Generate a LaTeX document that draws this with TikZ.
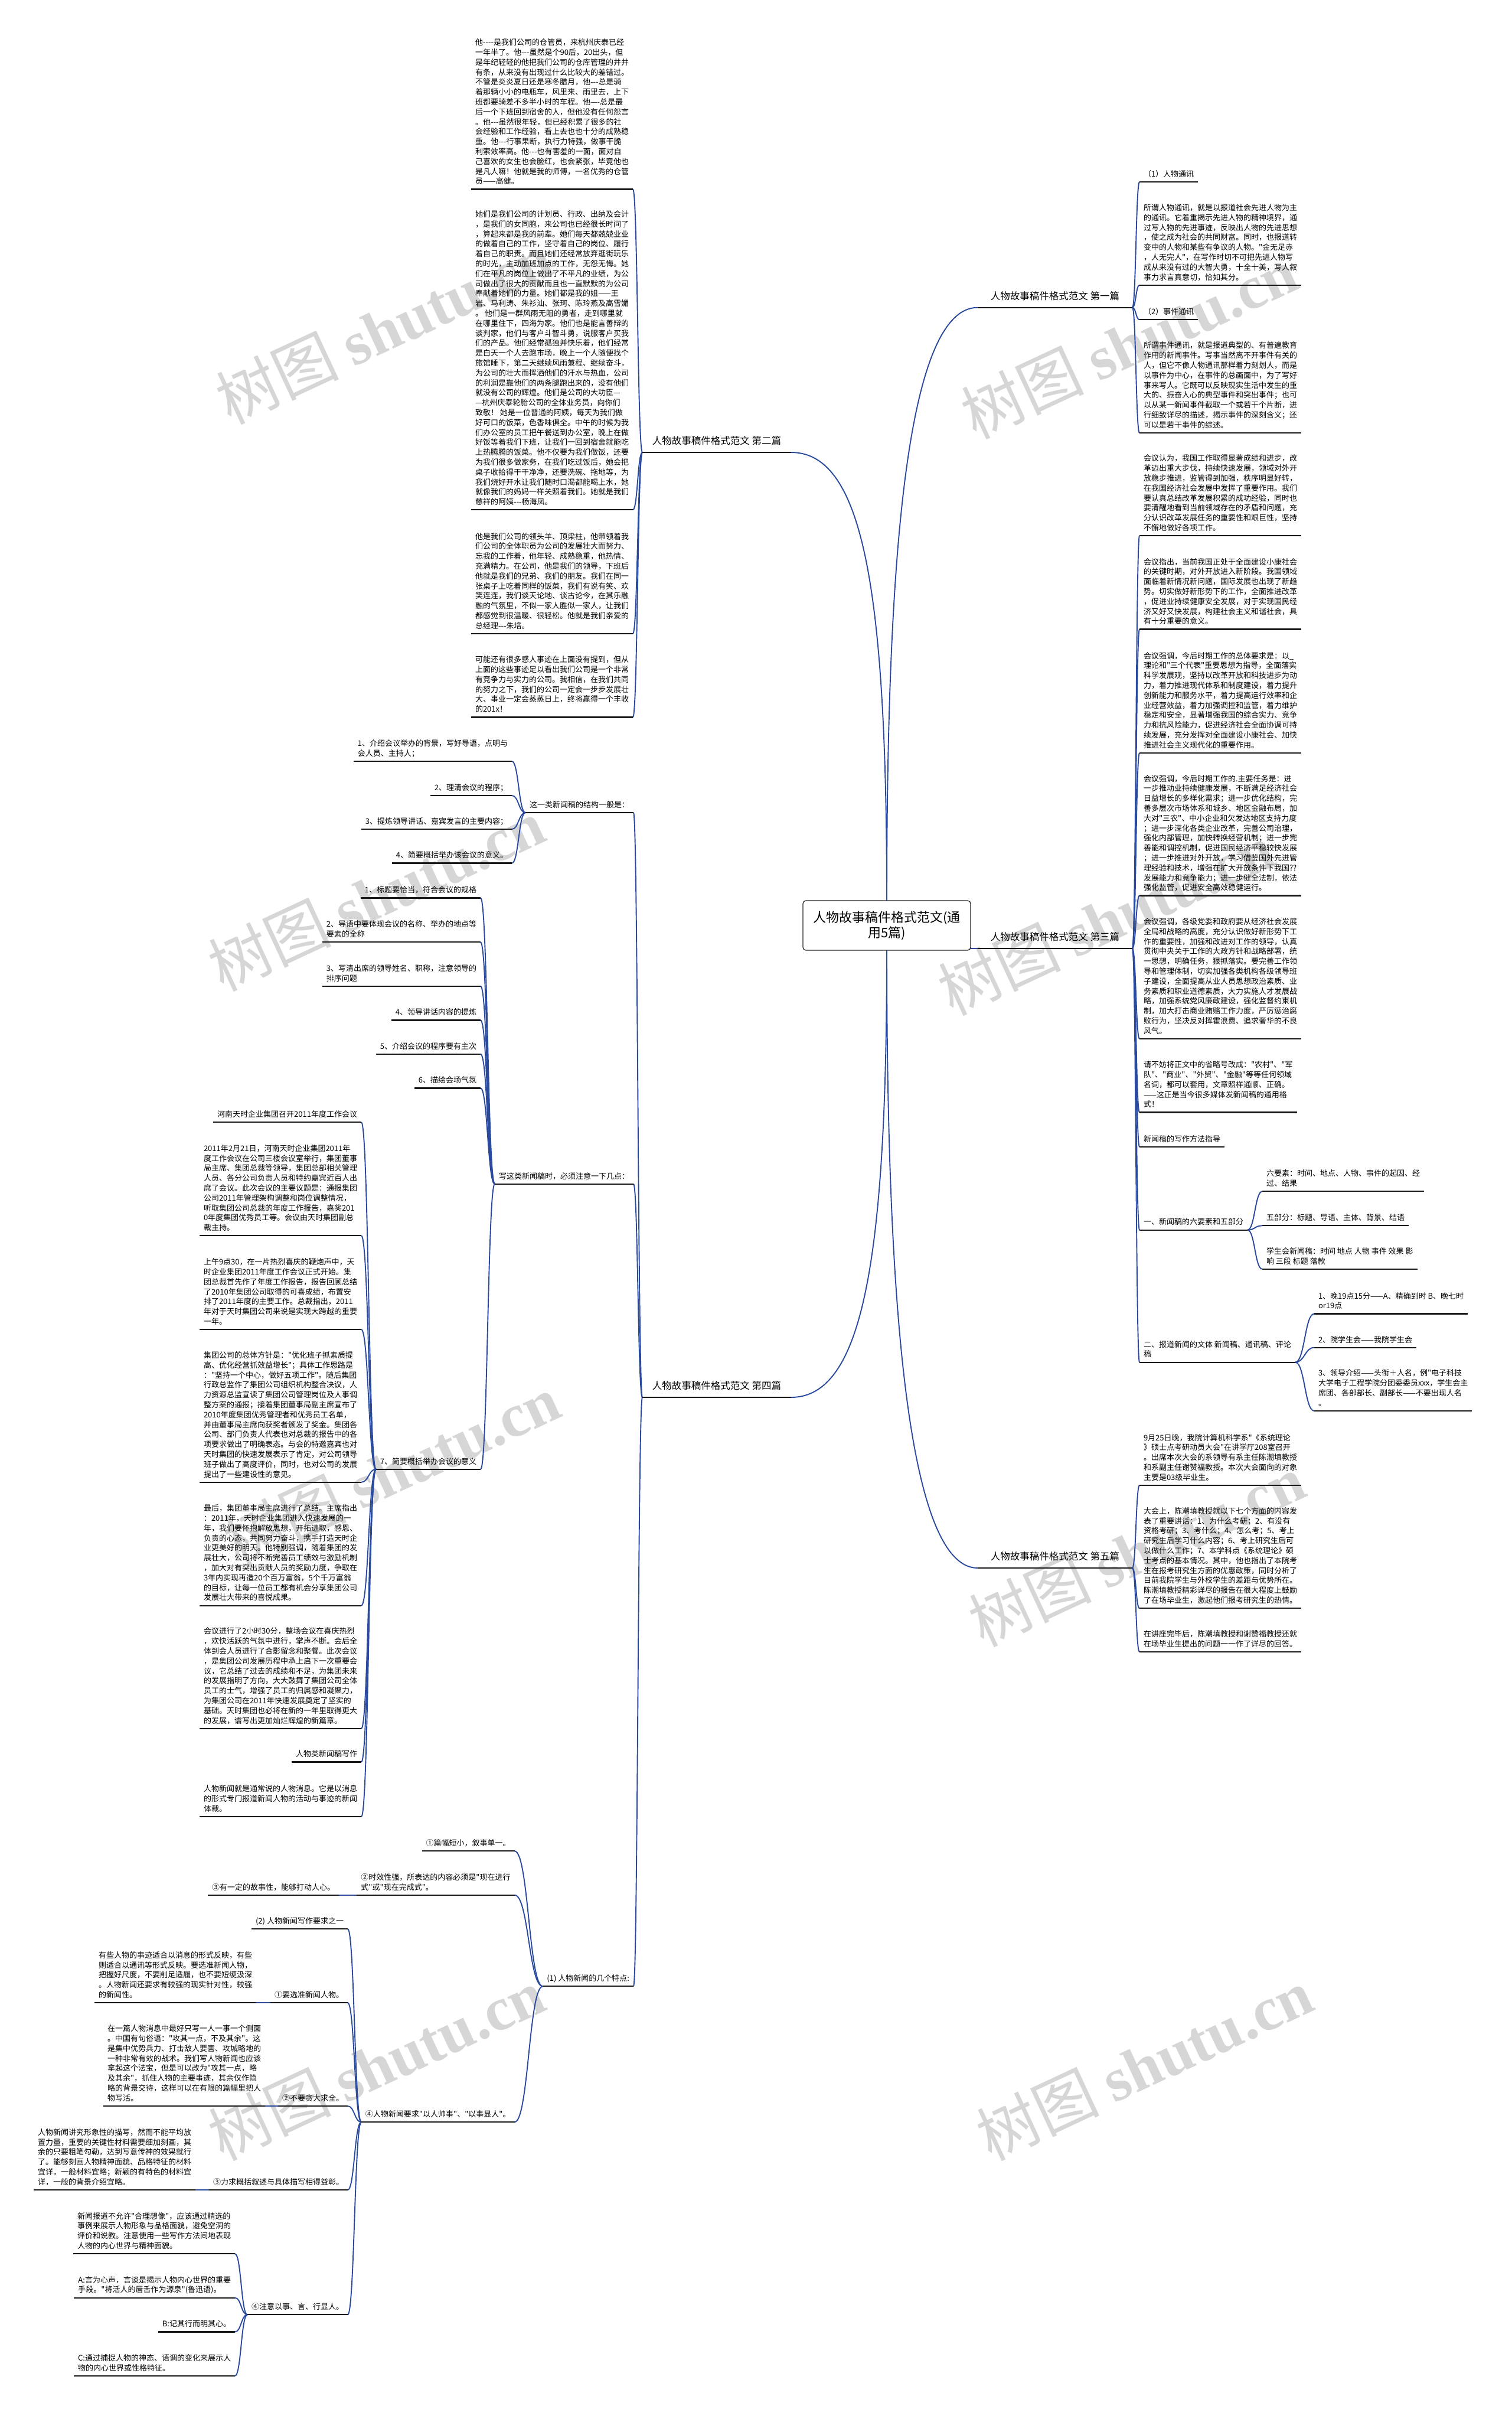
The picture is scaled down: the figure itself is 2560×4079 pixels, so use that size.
\documentclass[tikz,border=0pt]{standalone}
\usepackage{fontspec}
\usetikzlibrary{calc}
\newfontfamily\cjk[Ligatures=TeXOff]{Noto Sans CJK SC}
\newfontfamily\wmlat{Liberation Serif}
\newcommand\FBody{\cjk\fontsize{13}{16.8}\selectfont}
\newcommand\FLvl{\cjk\fontsize{16.5}{20}\selectfont}
\newcommand\FRoot{\cjk\fontsize{22}{26}\selectfont}
\definecolor{linkblue}{HTML}{2A4A9E}
\tikzset{
  tb/.style={font=\FBody, align=left, inner xsep=7pt, inner ysep=0pt, outer sep=0pt, text depth=8.7pt},
  R/.style={tb, anchor=south west},
  L/.style={tb, anchor=south east},
  lvl/.style={font=\FLvl, inner xsep=0pt, inner ysep=0pt, outer sep=0pt, text depth=13.7pt, minimum width=262pt},
  ul/.style={line width=2.2pt, draw=black!90},
  conn/.style={line width=1.9pt, draw=linkblue},
  wm/.style={font=\fontsize{104}{104}\selectfont, text=black!16, rotate=25, inner sep=0pt},
}
\newcommand\lk[2]{\draw[conn] let \p1=(#1), \p2=(#2), \n1={(\x1+\x2)/2} in (\p1) .. controls (\n1,\y1) and (\n1,\y2) .. (\p2);}
\begin{document}
\begin{tikzpicture}[x=1pt,y=-1pt]
\useasboundingbox (0,0) rectangle (2560,4079);
\fill[white] (0,0) rectangle (2560,4079);
% watermarks
\foreach \wx/\wy [count=\wi] in {650/555,1912/580,637/1515,1873/1556,663/2490,1925/2625,637/3495,1938/3495}
  \node[wm] (wm\wi) at (\wx,\wy) {\cjk 树图\ \wmlat\bfseries shutu.cn};

% ---------- level 1 ----------
\node[lvl, anchor=south west] (B1) at (1656,520.7) {人物故事稿件格式范文 第一篇};
\node[lvl, anchor=south east, minimum width=252pt] (B2) at (1340,766) {人物故事稿件格式范文 第二篇};
\node[lvl, anchor=south west] (B3) at (1656,1606) {人物故事稿件格式范文 第三篇};
\node[lvl, anchor=south east, minimum width=252pt] (B4) at (1340,2366) {人物故事稿件格式范文 第四篇};
\node[lvl, anchor=south west] (B5) at (1656,2655) {人物故事稿件格式范文 第五篇};

% ---------- B1 ----------
\node[R] (n11) at (1930,308.2) {（1）人物通讯};
\node[R] (n12) at (1930,482.7) {所谓人物通讯，就是以报道社会先进人物为主\\的通讯。它着重揭示先进人物的精神境界，通\\过写人物的先进事迹，反映出人物的先进思想\\，使之成为社会的共同财富。同时，也报道转\\变中的人物和某些有争议的人物。"金无足赤\\，人无完人"，在写作时切不可把先进人物写\\成从来没有过的大智大勇，十全十美，写人叙\\事力求言真意切，恰如其分。};
\node[R] (n13) at (1930,541.3) {（2）事件通讯};
\node[R] (n14) at (1930,733) {所谓事件通讯，就是报道典型的、有普遍教育\\作用的新闻事件。写事当然离不开事件有关的\\人，但它不像人物通讯那样着力刻划人，而是\\以事件为中心，在事件的总画面中，为了写好\\事来写人。它既可以反映现实生活中发生的重\\大的、振奋人心的典型事件和突出事件；也可\\以从某一新闻事件截取一个或若干个片断，进\\行细致详尽的描述，揭示事件的深刻含义；还\\可以是若干事件的综述。};

% ---------- B3 ----------
\node[R] (n31) at (1930,907.2) {会议认为，我国工作取得显著成绩和进步，改\\革迈出重大步伐，持续快速发展，领域对外开\\放稳步推进，监管得到加强，秩序明显好转，\\在我国经济社会发展中发挥了重要作用。我们\\要认真总结改革发展积累的成功经验，同时也\\要清醒地看到当前领域存在的矛盾和问题，充\\分认识改革发展任务的重要性和艰巨性，坚持\\不懈地做好各项工作。};
\node[R] (n32) at (1930,1065.5) {会议指出，当前我国正处于全面建设小康社会\\的关键时期，对外开放进入新阶段。我国领域\\面临着新情况新问题，国际发展也出现了新趋\\势。切实做好新形势下的工作，全面推进改革\\，促进业持续健康安全发展，对于实现国民经\\济又好又快发展，构建社会主义和谐社会，具\\有十分重要的意义。};
\node[R] (n33) at (1930,1275) {会议强调，今后时期工作的总体要求是：以\_\\理论和"三个代表"重要思想为指导，全面落实\\科学发展观，坚持以改革开放和科技进步为动\\力，着力推进现代体系和制度建设，着力提升\\创新能力和服务水平，着力提高运行效率和企\\业经营效益，着力加强调控和监管，着力维护\\稳定和安全，显著增强我国的综合实力、竞争\\力和抗风险能力，促进经济社会全面协调可持\\续发展，充分发挥对全面建设小康社会、加快\\推进社会主义现代化的重要作用。};
\node[R] (n34) at (1930,1516.5) {会议强调，今后时期工作的.主要任务是：进\\一步推动业持续健康发展，不断满足经济社会\\日益增长的多样化需求；进一步优化结构，完\\善多层次市场体系和城乡、地区金融布局，加\\大对"三农"、中小企业和欠发达地区支持力度\\；进一步深化各类企业改革，完善公司治理，\\强化内部管理，加快转换经营机制；进一步完\\善能和调控机制，促进国民经济平稳较快发展\\；进一步推进对外开放，学习借鉴国外先进管\\理经验和技术，增强在扩大开放条件下我国??\\发展能力和竞争能力；进一步健全法制，依法\\强化监管，促进安全高效稳健运行。};
\node[R] (n35) at (1930,1759) {会议强调，各级党委和政府要从经济社会发展\\全局和战略的高度，充分认识做好新形势下工\\作的重要性，加强和改进对工作的领导，认真\\贯彻中央关于工作的大政方针和战略部署，统\\一思想，明确任务，狠抓落实。要完善工作领\\导和管理体制，切实加强各类机构各级领导班\\子建设，全面提高从业人员思想政治素质、业\\务素质和职业道德素质，大力实施人才发展战\\略，加强系统党风廉政建设，强化监督约束机\\制，加大打击商业贿赂工作力度，严厉惩治腐\\败行为，坚决反对挥霍浪费、追求奢华的不良\\风气。};
\node[R] (n36) at (1930,1883.5) {请不妨将正文中的省略号改成："农村"、"军\\队"、"商业"、"外贸"、"金融"等等任何领域\\名词，都可以套用，文章照样通顺、正确。\\——这正是当今很多媒体发新闻稿的通用格\\式！};
\node[R] (n37) at (1930,1941.8) {新闻稿的写作方法指导};
\node[R] (n38) at (1930,2082.6) {一、新闻稿的六要素和五部分};
\node[R] (n381) at (2138,2017.3) {六要素：时间、地点、人物、事件的起因、经\\过、结果};
\node[R] (n382) at (2138,2075.3) {五部分：标题、导语、主体、背景、结语};
\node[R] (n383) at (2138,2148.8) {学生会新闻稿：时间 地点 人物 事件 效果 影\\响 三段 标题 落款};
\node[R] (n39) at (1930,2306.6) {二、报道新闻的文体 新闻稿、通讯稿、评论\\稿};
\node[R] (n391) at (2226,2224.5) {1、晚19点15分——A、精确到时 B、晚七时\\or19点};
\node[R] (n392) at (2226,2281.7) {2、院学生会——我院学生会};
\node[R] (n393) at (2226,2389) {3、领导介绍——头衔＋人名，例"电子科技\\大学电子工程学院分团委委员xxx，学生会主\\席团、各部部长、副部长——不要出现人名\\。};

% ---------- B5 ----------
\node[R] (n51) at (1930,2514.9) {9月25日晚，我院计算机科学系"《系统理论\\》硕士点考研动员大会"在讲学厅208室召开\\。出席本次大会的系领导有系主任陈潮填教授\\和系副主任谢赞福教授。本次大会面向的对象\\主要是03级毕业生。};
\node[R] (n52) at (1930,2723.2) {大会上，陈潮填教授就以下七个方面的内容发\\表了重要讲话：1、为什么考研；2、有没有\\资格考研；3、考什么；4、怎么考；5、考上\\研究生后学习什么内容；6、考上研究生后可\\以做什么工作；7、本学科点《系统理论》硕\\士考点的基本情况。其中，他也指出了本院考\\生在报考研究生方面的优惠政策，同时分析了\\目前我院学生与外校学生的差距与优势所在。\\陈潮填教授精彩详尽的报告在很大程度上鼓励\\了在场毕业生，激起他们报考研究生的热情。};
\node[R] (n53) at (1930,2796.9) {在讲座完毕后，陈潮填教授和谢赞福教授还就\\在场毕业生提出的问题一一作了详尽的回答。};

% ---------- B2 ----------
\node[L] (t1) at (1072,320.5) {他----是我们公司的仓管员，来杭州庆泰已经\\一年半了。他---虽然是个90后，20出头，但\\是年纪轻轻的他把我们公司的仓库管理的井井\\有条，从来没有出现过什么比较大的差错过。\\不管是炎炎夏日还是寒冬腊月，他---总是骑\\着那辆小小的电瓶车，风里来、雨里去，上下\\班都要骑差不多半小时的车程。他—-总是最\\后一个下班回到宿舍的人，但他没有任何怨言\\。他---虽然很年轻，但已经积累了很多的社\\会经验和工作经验，看上去也也十分的成熟稳\\重。他---行事果断，执行力特强，做事干脆\\利索效率高。他---也有害羞的一面，面对自\\己喜欢的女生也会脸红，也会紧张，毕竟他也\\是凡人嘛！他就是我的师傅，一名优秀的仓管\\员——高健。};
\node[L] (t2) at (1072,863.3) {她们是我们公司的计划员、行政、出纳及会计\\，是我们的女同胞，来公司也已经很长时间了\\，算起来都是我的前辈。她们每天都兢兢业业\\的做着自己的工作，坚守着自己的岗位、履行\\着自己的职责。而且她们还经常放弃逛街玩乐\\的时光，主动加班加点的工作，无怨无悔。她\\们在平凡的岗位上做出了不平凡的业绩，为公\\司做出了很大的贡献而且也一直默默的为公司\\奉献着她们的力量。她们都是我的姐——王\\岩、马利涛、朱衫汕、张珂、陈玲燕及高雪媚\\。 他们是一群风雨无阻的勇者，走到哪里就\\在哪里住下，四海为家。他们也是能言善辩的\\谈判家，他们与客户斗智斗勇，说服客户买我\\们的产品。他们经常孤独并快乐着，他们经常\\是白天一个人去跑市场，晚上一个人随便找个\\旅馆睡下，第二天继续风雨兼程、继续奋斗，\\为公司的壮大而挥洒他们的汗水与热血，公司\\的利润是靠他们的两条腿跑出来的，没有他们\\就没有公司的辉煌。他们是公司的大功臣—\\—杭州庆泰轮胎公司的全体业务员，向你们\\致敬！ 她是一位普通的阿姨，每天为我们做\\好可口的饭菜，色香味俱全。中午的时候为我\\们办公室的员工把午餐送到办公室，晚上在做\\好饭等着我们下班，让我们一回到宿舍就能吃\\上热腾腾的饭菜。他不仅要为我们做饭，还要\\为我们很多做家务，在我们吃过饭后，她会把\\桌子收拾得干干净净，还要洗碗、拖地等，为\\我们烧好开水让我们随时口渴都能喝上水，她\\就像我们的妈妈一样关照着我们。她就是我们\\慈祥的阿姨---杨海凤。};
\node[L] (t3) at (1072,1072.9) {他是我们公司的领头羊、顶梁柱，他带领着我\\们公司的全体职员为公司的发展壮大而努力、\\忘我的工作着，他年轻、成熟稳重，他热情、\\充满精力。在公司，他是我们的领导，下班后\\他就是我们的兄弟、我们的朋友。我们在同一\\张桌子上吃着同样的饭菜，我们有说有笑、欢\\笑连连，我们谈天论地、谈古论今，在其乐融\\融的气氛里，不似一家人胜似一家人，让我们\\都感觉到很温暖、很轻松。他就是我们亲爱的\\总经理---朱培。};
\node[L] (t4) at (1072,1214.4) {可能还有很多感人事迹在上面没有提到，但从\\上面的这些事迹足以看出我们公司是一个非常\\有竞争力与实力的公司。我相信，在我们共同\\的努力之下，我们的公司一定会一步步发展壮\\大、事业一定会蒸蒸日上，终将赢得一个丰收\\的201x！};

% ---------- B4 ----------
\node[L] (C1) at (1073,1376) {这一类新闻稿的结构一般是：};
\node[L] (C2) at (1073,2004.7) {写这类新闻稿时，必须注意一下几点：};
\node[L] (C3) at (1073,3363.3) {(1) 人物新闻的几个特点:};

\node[L] (c11) at (867,1289) {1、介绍会议举办的背景，写好导语，点明与\\会人员、主持人；};
\node[L] (c12) at (867,1347) {2、理清会议的程序；};
\node[L] (c13) at (867,1404) {3、提炼领导讲话、嘉宾发言的主要内容；};
\node[L] (c14) at (867,1461.5) {4、简要概括举办该会议的意义。};

\node[L] (c21) at (814,1520.4) {1、标题要恰当，符合会议的规格};
\node[L] (c22) at (814,1595.3) {2、导语中要体现会议的名称、举办的地点等\\要素的全称};
\node[L] (c23) at (814,1669.8) {3、写清出席的领导姓名、职称，注意领导的\\排序问题};
\node[L] (c24) at (814,1727.5) {4、领导讲话内容的提炼};
\node[L] (c25) at (814,1784.7) {5、介绍会议的程序要有主次};
\node[L] (c26) at (814,1842.4) {6、描绘会场气氛};
\node[L] (c27) at (814,2487.8) {7、简要概括举办会议的意义};

\node[L] (h1) at (612,1900.2) {河南天时企业集团召开2011年度工作会议};
\node[L] (h2) at (612,2092.3) {2011年2月21日，河南天时企业集团2011年\\度工作会议在公司三楼会议室举行，集团董事\\局主席、集团总裁等领导，集团总部相关管理\\人员、各分公司负责人员和特约嘉宾近百人出\\席了会议。此次会议的主要议题是：通报集团\\公司2011年管理架构调整和岗位调整情况，\\听取集团公司总裁的年度工作报告，嘉奖201\\0年度集团优秀员工等。会议由天时集团副总\\裁主持。};
\node[L] (h3) at (612,2251.1) {上午9点30，在一片热烈喜庆的鞭炮声中，天\\时企业集团2011年度工作会议正式开始。集\\团总裁首先作了年度工作报告，报告回顾总结\\了2010年集团公司取得的可喜成绩，布置安\\排了2011年度的主要工作。总裁指出，2011\\年对于天时集团公司来说是实现大跨越的重要\\一年。};
\node[L] (h4) at (612,2509.7) {集团公司的总体方针是："优化班子抓素质提\\高、优化经营抓效益增长"；具体工作思路是\\："坚持一个中心，做好五项工作"。随后集团\\行政总监作了集团公司组织机构整合决议，人\\力资源总监宣读了集团公司管理岗位及人事调\\整方案的通报；接着集团董事局副主席宣布了\\2010年度集团优秀管理者和优秀员工名单，\\并由董事局主席向获奖者颁发了奖金。集团各\\公司、部门负责人代表也对总裁的报告中的各\\项要求做出了明确表态。与会的特邀嘉宾也对\\天时集团的快速发展表示了肯定，对公司领导\\班子做出了高度评价，同时，也对公司的发展\\提出了一些建设性的意见。};
\node[L] (h5) at (612,2718.6) {最后，集团董事局主席进行了总结。主席指出\\：2011年，天时企业集团进入快速发展的一\\年，我们要怀抱解放思想，开拓进取，感恩、\\负责的心态，共同努力奋斗，携手打造天时企\\业更美好的明天。他特别强调，随着集团的发\\展壮大，公司将不断完善员工绩效与激励机制\\，加大对有突出贡献人员的奖励力度，争取在\\3年内实现再造20个百万富翁，5个千万富翁\\的目标，让每一位员工都有机会分享集团公司\\发展壮大带来的喜悦成果。};
\node[L] (h6) at (612,2926.8) {会议进行了2小时30分，整场会议在喜庆热烈\\，欢快活跃的气氛中进行，掌声不断。会后全\\体到会人员进行了合影留念和聚餐。此次会议\\，是集团公司发展历程中承上启下一次重要会\\议，它总结了过去的成绩和不足，为集团未来\\的发展指明了方向，大大鼓舞了集团公司全体\\员工的士气，增强了员工的归属感和凝聚力，\\为集团公司在2011年快速发展奠定了坚实的\\基础。天时集团也必将在新的一年里取得更大\\的发展，谱写出更加灿烂辉煌的新篇章。};
\node[L] (h7) at (612,2983.4) {人物类新闻稿写作};
\node[L] (h8) at (612,3076.1) {人物新闻就是通常说的人物消息。它是以消息\\的形式专门报道新闻人物的活动与事迹的新闻\\体裁。};

\node[L] (d1) at (871.6,3134.3) {①篇幅短小，叙事单一。};
\node[L] (d2) at (871.6,3208.7) {②时效性强，所表达的内容必须是"现在进行\\式"或"现在完成式"。};
\node[L] (d2a) at (574,3208.7) {③有一定的故事性，能够打动人心。};
\node[L] (d3) at (871.6,3593.1) {④人物新闻要求"以人帅事"、"以事显人"。};
\node[L] (e1) at (589,3266.2) {(2) 人物新闻写作要求之一};
\node[L] (e2) at (589,3391.2) {①要选准新闻人物。};
\node[L] (e2a) at (434,3391.2) {有些人物的事迹适合以消息的形式反映，有些\\则适合以通讯等形式反映。要选准新闻人物，\\把握好尺度，不要削足适履，也不要短绠汲深\\。人物新闻还要求有较强的现实针对性，较强\\的新闻性。};
\node[L] (e3) at (589,3566) {②不要贪大求全。};
\node[L] (e3a) at (449,3566) {在一篇人物消息中最好只写一人一事一个侧面\\。中国有句俗语："攻其一点，不及其余"。这\\是集中优势兵力、打击敌人要害、攻城略地的\\一种非常有效的战术。我们写人物新闻也应该\\拿起这个法宝，但是可以改为"攻其一点，略\\及其余"，抓住人物的主要事迹，其余仅作简\\略的背景交待，这样可以在有限的篇幅里把人\\物写活。};
\node[L] (e4) at (589,3708) {③力求概括叙述与具体描写相得益彰。};
\node[L] (e4a) at (331,3708) {人物新闻讲究形象性的描写，然而不能平均放\\置力量，重要的关键性材料需要细加刻画，其\\余的只要粗笔勾勒，达到写意传神的效果就行\\了。能够刻画人物精神面貌、品格特征的材料\\宜详，一般材料宜略；新颖的有特色的材料宜\\详，一般的背景介绍宜略。};
\node[L] (e5) at (589,3919.3) {④注意以事、言、行显人。};
\node[L] (f1) at (398,3816.2) {新闻报道不允许"合理想像"，应该通过精选的\\事例来展示人物形象与品格面貌，避免空洞的\\评价和说教。注意使用一些写作方法间地表现\\人物的内心世界与精神面貌。};
\node[L] (f2) at (398,3890.6) {A:言为心声，言谈是揭示人物内心世界的重要\\手段。"将活人的唇舌作为源泉"(鲁迅语)。};
\node[L] (f3) at (398,3948.4) {B:记其行而明其心。};
\node[L] (f4) at (398,4022.8) {C:通过捕捉人物的神态、语调的变化来展示人\\物的内心世界或性格特征。};

% ---------- root ----------
\node[draw=none, minimum width=284pt, minimum height=84pt, inner sep=0pt] (root) at (1502,1567) {};

% ---------- connectors ----------
\draw[conn] (root.north) .. controls (1502,985) and (1530,520.7) .. (B1.south west);
\draw[conn] (root.north) .. controls (1502,1000) and (1462,766) .. (B2.south east);
\draw[conn] (root.east |- B3.south west) -- (B3.south west);
\draw[conn] (root.south) .. controls (1502,2130) and (1462,2366) .. (B4.south east);
\draw[conn] (root.south) .. controls (1502,2150) and (1530,2655) .. (B5.south west);

\foreach \c in {n11,n12,n13,n14} {\lk{B1.south east}{\c.south west}}
\foreach \c in {n31,n32,n33,n34,n35,n36,n37,n38,n39} {\lk{B3.south east}{\c.south west}}
\foreach \c in {n381,n382,n383} {\lk{n38.south east}{\c.south west}}
\foreach \c in {n391,n392,n393} {\lk{n39.south east}{\c.south west}}
\foreach \c in {n51,n52,n53} {\lk{B5.south east}{\c.south west}}
\foreach \c in {t1,t2,t3,t4} {\lk{B2.south west}{\c.south east}}
\foreach \c in {C1,C2,C3} {\lk{B4.south west}{\c.south east}}
\foreach \c in {c11,c12,c13,c14} {\lk{C1.south west}{\c.south east}}
\foreach \c in {c21,c22,c23,c24,c25,c26,c27} {\lk{C2.south west}{\c.south east}}
\foreach \c in {h1,h2,h3,h4,h5,h6,h7,h8} {\lk{c27.south west}{\c.south east}}
\foreach \c in {d1,d2,d3} {\lk{C3.south west}{\c.south east}}
\lk{d2.south west}{d2a.south east}
\foreach \c in {e1,e2,e3,e4,e5} {\lk{d3.south west}{\c.south east}}
\lk{e2.south west}{e2a.south east}
\lk{e3.south west}{e3a.south east}
\lk{e4.south west}{e4a.south east}
\foreach \c in {f1,f2,f3,f4} {\lk{e5.south west}{\c.south east}}

% ---------- underlines ----------
\foreach \n in {B1,B2,B3,B4,B5,n11,n12,n13,n14,n31,n32,n33,n34,n35,n36,n37,n38,n381,n382,n383,n39,n391,n392,n393,n51,n52,n53,t1,t2,t3,t4,C1,C2,C3,c11,c12,c13,c14,c21,c22,c23,c24,c25,c26,c27,h1,h2,h3,h4,h5,h6,h7,h8,d1,d2,d2a,d3,e1,e2,e2a,e3,e3a,e4,e4a,e5,f1,f2,f3,f4}
  {\draw[ul] (\n.south west) -- (\n.south east);}

% ---------- root box on top ----------
\node[draw=black!85, line width=1.3pt, rounded corners=5pt, fill=white, minimum width=284pt, minimum height=84pt, align=center, font=\FRoot, inner sep=0pt] (rootbox) at (root.center) {人物故事稿件格式范文(通\\用5篇)};
\end{tikzpicture}
\end{document}
